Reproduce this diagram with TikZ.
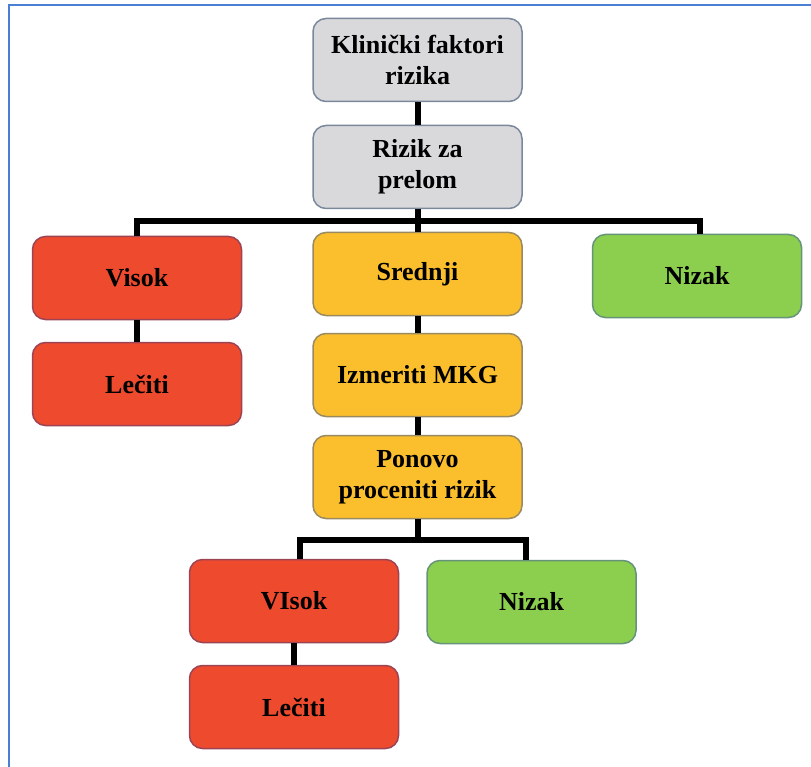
\documentclass[tikz,border=0pt]{standalone}
\usepackage{fontspec}
\setmainfont{Liberation Serif}[BoldFont={Liberation Serif Bold}]
\usetikzlibrary{positioning}

\definecolor{frameblue}{HTML}{4A7FD6}
\definecolor{boxgray}{HTML}{D9D9DC}
\definecolor{edgegray}{HTML}{7A889C}
\definecolor{boxred}{HTML}{EE4A2E}
\definecolor{edgered}{HTML}{9C4454}
\definecolor{boxorange}{HTML}{FBBF2D}
\definecolor{edgeorange}{HTML}{9A8A62}
\definecolor{boxgreen}{HTML}{8CCF4E}
\definecolor{edgegreen}{HTML}{66947A}

\tikzset{
  box/.style={rounded corners=13pt, line width=1.5pt, minimum width=209pt,
    minimum height=83pt, align=center, inner sep=2pt,
    font=\fontsize{26}{31}\selectfont\bfseries},
  graybox/.style={box, fill=boxgray, draw=edgegray},
  redbox/.style={box, fill=boxred, draw=edgered},
  orangebox/.style={box, fill=boxorange, draw=edgeorange},
  greenbox/.style={box, fill=boxgreen, draw=edgegreen},
  link/.style={line width=6pt, black}
}

\begin{document}
\begin{tikzpicture}[x=1pt,y=-1pt]
\useasboundingbox (0,0) rectangle (811,767);
\fill[white] (0,0) rectangle (811,767);
% frame
\draw[frameblue, line width=2pt] (811,5.5) -- (9,5.5) -- (9,767);

% top of the tree
\node[graybox] (klin) at (417.5,60) {Klinički faktori\\rizika};
\node[graybox] (rizik) at (417.5,167) {Rizik za\\prelom};

% first split
\node[redbox] (visok) at (137,278) {Visok};
\node[orangebox] (srednji) at (417.5,274) {Srednji};
\node[greenbox] (nizak) at (697,276) {Nizak};
\node[redbox] (leciti) at (137,384) {Lečiti};
\node[orangebox] (izmeriti) at (417.5,375) {Izmeriti MKG};
\node[orangebox] (ponovo) at (417.5,477) {Ponovo\\proceniti rizik};

% second split
\node[redbox] (visokb) at (294,601) {VIsok};
\node[greenbox] (nizakb) at (531.5,602) {Nizak};
\node[redbox] (lecitib) at (294,707) {Lečiti};

\coordinate (bar) at (417.5,221);
\coordinate (barb) at (417.5,540);

\draw[link] (klin) -- (rizik);
\draw[link] (rizik) -- (bar);
\draw[link] (bar) -- (srednji);
\draw[link] (visok.north) |- (bar) -| ([xshift=3pt]nizak.north);
\draw[link] (visok) -- (leciti);
\draw[link] (srednji) -- (izmeriti);
\draw[link] (izmeriti) -- (ponovo);
\draw[link] (ponovo) -- (barb);
\draw[link] ([xshift=6pt]visokb.north) |- (barb) -| ([xshift=-6pt]nizakb.north);
\draw[link] (visokb) -- (lecitib);
\end{tikzpicture}
\end{document}
